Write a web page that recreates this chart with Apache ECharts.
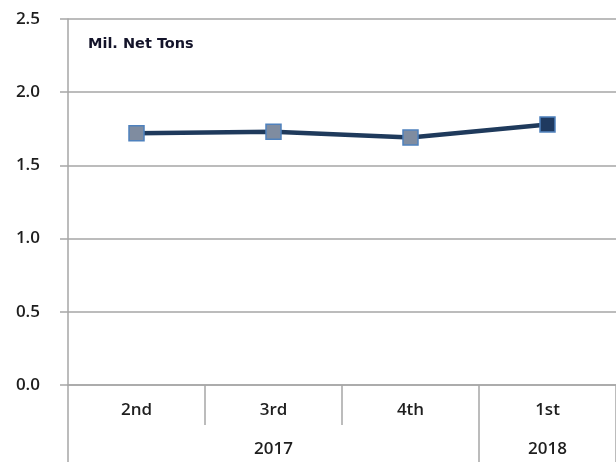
<!DOCTYPE html>
<html>
<head>
<meta charset="utf-8">
<script src="https://cdn.jsdelivr.net/npm/echarts@6/dist/echarts.min.js"></script>
<style>
  html, body { margin: 0; padding: 0; background: #fff; }
  #chart { width: 616px; height: 462px; }
</style>
</head>
<body>
<div id="chart"></div>
<script>
// quarters and years on the two category rows
var quarters = ['2nd', '3rd', '4th', '1st'];
var years = ['', '2017', '', '2018'];
var tonnage = [1.72, 1.73, 1.69, 1.78];
var unitLabel = 'Mil. Net Tons';

var gridColor = '#a6a6a6';
var textColor = '#1e1e1e';
var fontFamily = '"Open Sans", "Noto Sans", sans-serif';

var chart = echarts.init(document.getElementById('chart'));

var pointData = tonnage.map(function (v, i) {
  return {
    value: v,
    itemStyle: { color: i === tonnage.length - 1 ? '#1f3a60' : '#7f8ca0' }
  };
});

chart.setOption({
  animation: false,
  textStyle: { fontFamily: fontFamily },
  grid: { left: 68, top: 19, right: -2, bottom: 77, containLabel: false },
  graphic: [{
    type: 'text',
    left: 88,
    top: 37,
    style: {
      text: unitLabel,
      font: 'bold 14.5px "DejaVu Sans", sans-serif',
      fill: '#14142a'
    }
  }],
  xAxis: [{
    type: 'category',
    data: quarters,
    position: 'bottom',
    axisLine: { show: true, lineStyle: { color: gridColor, width: 1.5 } },
    axisTick: { show: true, length: 40, lineStyle: { color: gridColor, width: 1.5 } },
    axisLabel: { margin: 17, color: textColor, fontSize: 17, fontWeight: 600 }
  }, {
    type: 'category',
    data: years,
    position: 'bottom',
    axisLine: { show: false },
    axisTick: {
      show: true,
      length: 80,
      interval: function (i) { return i === 0 || i === 3; },
      lineStyle: { color: gridColor, width: 1.5 }
    },
    axisLabel: { margin: 56, color: textColor, fontSize: 17, fontWeight: 600, interval: 0 }
  }],
  yAxis: {
    type: 'value',
    min: 0,
    max: 2.5,
    interval: 0.5,
    axisLine: { show: true, lineStyle: { color: gridColor, width: 1.5 } },
    axisTick: { show: true, length: 8, lineStyle: { color: gridColor, width: 1.5 } },
    splitLine: { lineStyle: { color: gridColor, width: 1.5 } },
    axisLabel: {
      margin: 28,
      color: textColor,
      fontSize: 17,
      fontWeight: 600,
      formatter: function (v) { return v.toFixed(1); }
    }
  },
  series: [{
    type: 'line',
    data: pointData,
    symbol: 'rect',
    symbolSize: 15,
    lineStyle: { color: '#1f3a5c', width: 4.5 },
    itemStyle: { borderColor: '#4f81bd', borderWidth: 1.5 }
  }]
});
</script>
</body>
</html>
